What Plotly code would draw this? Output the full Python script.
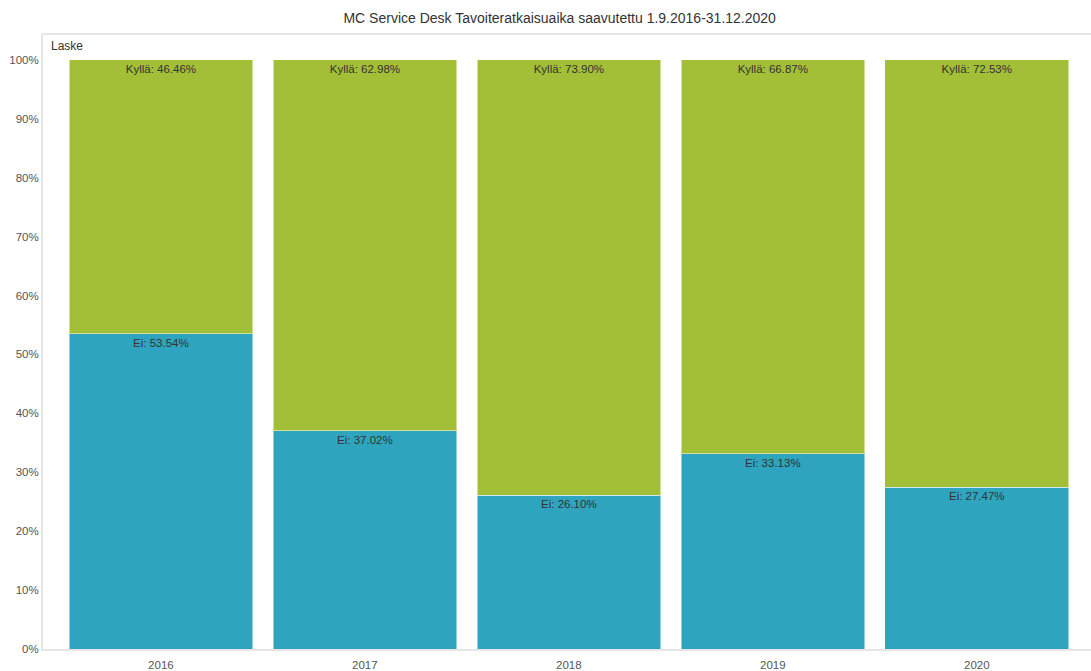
import plotly.graph_objects as go

years = ["2016", "2017", "2018", "2019", "2020"]
ei = [53.54, 37.02, 26.10, 33.13, 27.47]
kylla = [46.46, 62.98, 73.90, 66.87, 72.53]

title = "MC Service Desk Tavoiteratkaisuaika saavutettu 1.9.2016-31.12.2020"
blue = "#2EA4BF"
green = "#A3BE37"
font_family = "Liberation Sans, Arial, sans-serif"

fig = go.Figure()
fig.add_trace(go.Bar(
    x=years, y=[v / 100 for v in ei], name="Ei",
    marker=dict(color=blue, line=dict(color="rgba(255,255,255,0.5)", width=1)),
    text=[f"Ei: {v:.2f}%" for v in ei],
    textposition="inside", insidetextanchor="end", textangle=0,
    textfont=dict(color="#333333", size=11.5, family=font_family),
))
fig.add_trace(go.Bar(
    x=years, y=[v / 100 for v in kylla], name="Kyllä",
    marker=dict(color=green, line=dict(color="rgba(255,255,255,0.5)", width=1)),
    text=[f"Kyllä: {v:.2f}%" for v in kylla],
    textposition="inside", insidetextanchor="end", textangle=0,
    textfont=dict(color="#333333", size=11.5, family=font_family),
))

fig.update_layout(
    width=1091, height=671,
    barmode="stack", bargap=0.1,
    showlegend=False,
    plot_bgcolor="white", paper_bgcolor="white",
    margin=dict(l=43, r=0, t=34, b=22),
    font=dict(family=font_family, color="#555555", size=11.5),
    title=dict(text=title, x=0.513, xanchor="center", y=0.973, yanchor="middle",
               font=dict(size=14, color="#333333", family=font_family)),
    xaxis=dict(range=[-0.578, 4.56], showgrid=False, showline=True,
               linecolor="#E6E6E6", linewidth=2, ticks="", ticklabelstandoff=4,
               tickfont=dict(size=11.5, color="#555555")),
    yaxis=dict(range=[0, 1.044], dtick=0.1, tickformat=".0%", showgrid=False,
               zeroline=False, showline=True, linecolor="#E6E6E6", linewidth=2,
               ticks="", tickfont=dict(size=11.5, color="#555555")),
    uniformtext=dict(minsize=11, mode="show"),
)

fig.add_shape(type="line", xref="paper", yref="paper", x0=0, x1=1, y0=1, y1=1,
              line=dict(color="#E6E6E6", width=2))
fig.add_annotation(text="Laske", xref="paper", yref="paper", x=0.006, y=0.995,
                   xanchor="left", yanchor="top", showarrow=False,
                   font=dict(size=12, color="#333333", family=font_family))

fig.write_html("out.html")
